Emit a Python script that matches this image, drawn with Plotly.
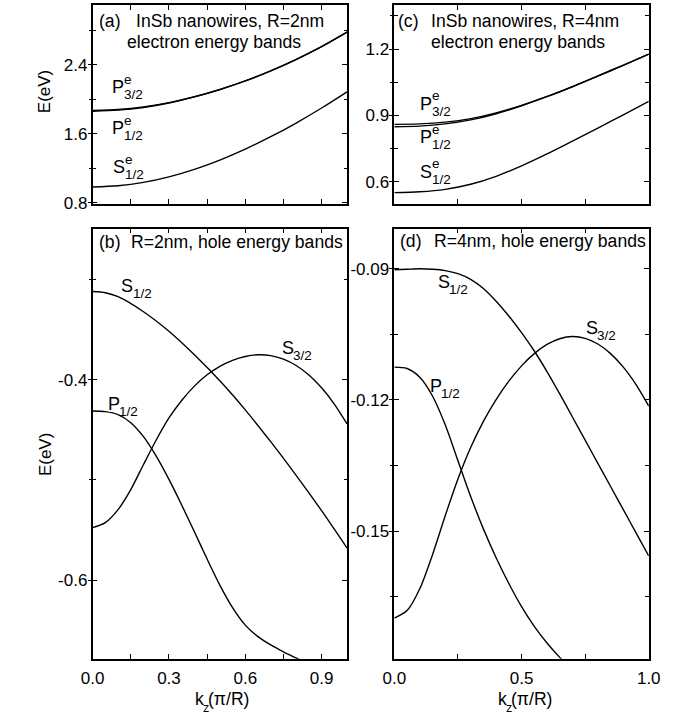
import plotly.graph_objects as go

W, H = 696, 722
FONT = "Liberation Sans, Arial, Helvetica, sans-serif"
INK = "#000000"

# ---------------- electron bands (k_z in units of pi/R, E in eV) ----------------
k_el = [0.0, 0.1, 0.2, 0.3, 0.4, 0.5, 0.6, 0.7, 0.8, 0.9, 1.0]

# R = 2 nm
el2_S12 = [0.982, 0.996, 1.035, 1.099, 1.186, 1.293, 1.420, 1.564, 1.723, 1.897, 2.085]
el2_P32 = [1.868, 1.880, 1.910, 1.960, 2.028, 2.112, 2.212, 2.328, 2.460, 2.608, 2.776]
el2_P12 = [1.860, 1.872, 1.903, 1.955, 2.026, 2.111, 2.211, 2.327, 2.459, 2.608, 2.776]

# R = 4 nm
el4_S12 = [0.551, 0.555, 0.566, 0.589, 0.625, 0.672, 0.726, 0.784, 0.843, 0.903, 0.964]
el4_P32 = [0.860, 0.862, 0.870, 0.886, 0.912, 0.946, 0.986, 1.031, 1.079, 1.128, 1.178]
el4_P12 = [0.849, 0.852, 0.862, 0.880, 0.908, 0.944, 0.985, 1.030, 1.078, 1.127, 1.178]

# ---------------- hole bands ----------------
# R = 2 nm
k_h2_S12 = [0.0, 0.05, 0.1, 0.2, 0.3, 0.4, 0.5, 0.6, 0.7, 0.8, 0.9, 1.0]
h2_S12 = [-0.3118, -0.3130, -0.3170, -0.3320, -0.3515, -0.3750, -0.4010,
          -0.4300, -0.4618, -0.4954, -0.5307, -0.5680]

k_h2_S32 = [0.0, 0.05, 0.1, 0.15, 0.2, 0.25, 0.3, 0.35, 0.4, 0.45, 0.5,
            0.55, 0.6, 0.65, 0.7, 0.75, 0.8, 0.85, 0.9, 0.95, 1.0]
h2_S32 = [-0.5476, -0.5426, -0.5296, -0.5096, -0.4846, -0.4601, -0.4381,
          -0.4206, -0.4063, -0.3950, -0.3865, -0.3805, -0.3767, -0.3750,
          -0.3758, -0.3793, -0.3857, -0.3952, -0.4080, -0.4242, -0.4440]

k_h2_P12 = [0.0, 0.05, 0.1, 0.15, 0.2, 0.25, 0.3, 0.35, 0.4, 0.45, 0.5,
            0.55, 0.6, 0.65, 0.7, 0.75, 0.8, 0.85]
h2_P12 = [-0.4312, -0.4318, -0.4348, -0.4428, -0.4568, -0.4763, -0.4995,
          -0.5250, -0.5518, -0.5790, -0.6050, -0.6275, -0.6450, -0.6565,
          -0.6648, -0.6716, -0.6778, -0.6840]

# R = 4 nm
k_h4_S12 = [0.0, 0.05, 0.1, 0.15, 0.2, 0.25, 0.3, 0.35, 0.4, 0.45, 0.5,
            0.55, 0.6, 0.65, 0.7, 0.75, 0.8, 0.85, 0.9, 0.95, 1.0]
h4_S12 = [-0.0902, -0.0901, -0.0900, -0.0901, -0.0904, -0.0911, -0.0924,
          -0.0945, -0.0974, -0.1008, -0.1046, -0.1088, -0.1135, -0.1186,
          -0.1239, -0.1292, -0.1345, -0.1398, -0.1451, -0.1504, -0.1557]

k_h4_S32 = [0.0, 0.05, 0.1, 0.15, 0.2, 0.25, 0.3, 0.35, 0.4, 0.45, 0.5,
            0.55, 0.6, 0.65, 0.7, 0.75, 0.8, 0.85, 0.9, 0.95, 1.0]
h4_S32 = [-0.1699, -0.1682, -0.1632, -0.1554, -0.1465, -0.1381, -0.1309,
          -0.1249, -0.1199, -0.1157, -0.1122, -0.1094, -0.1073, -0.1060,
          -0.1055, -0.1059, -0.1072, -0.1094, -0.1125, -0.1165, -0.1214]

k_h4_P12 = [0.0, 0.05, 0.1, 0.15, 0.2, 0.25, 0.3, 0.35, 0.4, 0.45, 0.5,
            0.55, 0.6, 0.65, 0.7]
h4_P12 = [-0.1125, -0.1128, -0.1148, -0.1191, -0.1257, -0.1339, -0.1421,
          -0.1495, -0.1561, -0.1620, -0.1673, -0.1718, -0.1756, -0.1789,
          -0.1819]

# ---------------- tick labels ----------------
xl_ticks = [0.0, 0.3, 0.6, 0.9]
xl_text = ["0.0", "0.3", "0.6", "0.9"]
xr_ticks = [0.0, 0.5, 1.0]
xr_text = ["0.0", "0.5", "1.0"]
ya_ticks = [0.8, 1.6, 2.4]
ya_text = ["0.8", "1.6", "2.4"]
yc_ticks = [0.6, 0.9, 1.2]
yc_text = ["0.6", "0.9", "1.2"]
yb_ticks = [-0.6, -0.4]
yb_text = ["-0.6", "-0.4"]
yd_ticks = [-0.15, -0.12, -0.09]
yd_text = ["-0.15", "-0.12", "-0.09"]


def px(x):
    return x / W


def py(y):
    return 1 - y / H


fig = go.Figure()

line = dict(color=INK, width=1.4, shape="spline", smoothing=0.8)


def band(k, e, xa, ya):
    fig.add_trace(go.Scatter(x=k, y=e, mode="lines", line=line,
                             xaxis=xa, yaxis=ya, hoverinfo="skip",
                             showlegend=False, cliponaxis=True))


band(k_el, el2_S12, "x", "y")
band(k_el, el2_P12, "x", "y")
band(k_el, el2_P32, "x", "y")
band(k_el, el4_S12, "x2", "y2")
band(k_el, el4_P12, "x2", "y2")
band(k_el, el4_P32, "x2", "y2")
band(k_h2_S12, h2_S12, "x3", "y3")
band(k_h2_S32, h2_S32, "x3", "y3")
band(k_h2_P12, h2_P12, "x3", "y3")
band(k_h4_S12, h4_S12, "x4", "y4")
band(k_h4_S32, h4_S32, "x4", "y4")
band(k_h4_P12, h4_P12, "x4", "y4")

# empty traces that carry the outer half of the crossing y ticks
for xa, ya in [("x", "y5"), ("x2", "y6"), ("x3", "y7"), ("x4", "y8")]:
    fig.add_trace(go.Scatter(x=[None], y=[None], mode="lines", xaxis=xa,
                             yaxis=ya, hoverinfo="skip", showlegend=False))

LEFT = [px(83.5), px(347)]
RIGHT = [px(396), px(659.5)]
TOP = [py(206.5), py(5)]
BOTTOM = [py(667), py(231.5)]

tickfont = dict(family=FONT, size=17, color=INK)


def xaxis(domain, anchor, vals, text, minor_dt, labels):
    return dict(domain=domain, anchor=anchor, range=[0, 1.0],
                tickmode="array", tickvals=vals, ticktext=text,
                showticklabels=labels, ticks="inside", ticklen=5,
                tickwidth=1.3, tickcolor=INK, mirror="allticks",
                showline=True, linecolor=INK, linewidth=1.6,
                showgrid=False, zeroline=False, tickfont=tickfont,
                ticklabelstandoff=3,
                minor=dict(ticks="inside", ticklen=3.5, tickwidth=1.2,
                           tickcolor=INK, dtick=minor_dt, tick0=0,
                           showgrid=False))


def yaxis(domain, anchor, rng, vals, text, minor_dt, minor_0):
    return dict(domain=domain, anchor=anchor, range=rng,
                tickmode="array", tickvals=vals, ticktext=text,
                ticks="inside", ticklen=5, tickwidth=1.3, tickcolor=INK,
                mirror="allticks", showline=True, linecolor=INK,
                linewidth=1.6, showgrid=False, zeroline=False,
                tickfont=tickfont, ticklabelstandoff=0,
                minor=dict(ticks="inside", ticklen=3.5, tickwidth=1.2,
                           tickcolor=INK, dtick=minor_dt, tick0=minor_0,
                           showgrid=False))


def outer_ticks(over, anchor, rng, vals, minor_dt, minor_0):
    return dict(overlaying=over, anchor=anchor, side="left", range=rng,
                tickmode="array", tickvals=vals, showticklabels=False,
                ticks="outside", ticklen=4, tickwidth=1.3, tickcolor=INK,
                showline=False, showgrid=False, zeroline=False,
                minor=dict(ticks="outside", ticklen=3, tickwidth=1.2,
                           tickcolor=INK, dtick=minor_dt, tick0=minor_0,
                           showgrid=False))


RA = [0.785, 3.092]
RC = [0.50, 1.40]
RB = [-0.6785, -0.249]
RD = [-0.1792, -0.0808]

fig.update_layout(
    width=W, height=H,
    margin=dict(l=0, r=0, t=0, b=0),
    paper_bgcolor="white", plot_bgcolor="white",
    font=dict(family=FONT, color=INK),
    showlegend=False,
    xaxis=xaxis(LEFT, "y", xl_ticks, xl_text, 0.15, False),
    yaxis=yaxis(TOP, "x", RA, ya_ticks, ya_text, 0.4, 0.0),
    xaxis2=xaxis(RIGHT, "y2", xr_ticks, xr_text, 0.25, False),
    yaxis2=yaxis(TOP, "x2", RC, yc_ticks, yc_text, 0.15, 0.0),
    xaxis3=xaxis(LEFT, "y3", xl_ticks, xl_text, 0.15, True),
    yaxis3=yaxis(BOTTOM, "x3", RB, yb_ticks, yb_text, 0.1, 0.0),
    xaxis4=xaxis(RIGHT, "y4", xr_ticks, xr_text, 0.25, True),
    yaxis4=yaxis(BOTTOM, "x4", RD, yd_ticks, yd_text, 0.015, 0.0),
    yaxis5=outer_ticks("y", "x", RA, ya_ticks, 0.4, 0.0),
    yaxis6=outer_ticks("y2", "x2", RC, yc_ticks, 0.15, 0.0),
    yaxis7=outer_ticks("y3", "x3", RB, yb_ticks, 0.1, 0.0),
    yaxis8=outer_ticks("y4", "x4", RD, yd_ticks, 0.015, 0.0),
)

annotations = []


def note(x, y, text, size, xanchor="left", angle=0):
    annotations.append(dict(
        x=px(x), y=py(y), xref="paper", yref="paper", text=text,
        showarrow=False, xanchor=xanchor, yanchor="middle",
        textangle=angle, borderpad=0,
        font=dict(family=FONT, size=size, color=INK)))


HEAD = 17.6
BIG = 18
SMALL = 13.5

# panel headings
note(89.5, 21, "(a)", HEAD)
note(127.5, 21.5, "InSb nanowires, R=2nm", HEAD)
note(118.5, 42.5, "electron energy bands", HEAD)
note(398.5, 21, "(c)", HEAD)
note(432.5, 21.5, "InSb nanowires, R=4nm", HEAD)
note(432.5, 42.5, "electron energy bands", HEAD)
note(89.5, 245, "(b)", HEAD)
note(122.5, 245.5, "R=2nm, hole energy bands", HEAD)
note(400.5, 244.5, "(d)", HEAD)
note(436, 244.5, "R=4nm, hole energy bands", HEAD)


def state(x, y, letter, sub, sup=None):
    note(x, y, letter, BIG)
    xs = x + 11.8 if letter == "P" else x + 12
    note(xs, y + 7.5, sub, SMALL)
    if sup:
        note(xs, y - 8, sup, SMALL)


# electron state labels
state(103, 88, "P", "3/2", "e")
state(103, 130, "P", "1/2", "e")
state(104, 169.5, "S", "1/2", "e")
state(422, 105, "P", "3/2", "e")
state(422, 139, "P", "1/2", "e")
state(422, 174, "S", "1/2", "e")

# hole state labels
state(112, 289.5, "S", "1/2")
state(278.3, 352, "S", "3/2")
state(98.3, 409, "P", "1/2")
state(440, 286, "S", "1/2")
state(593.3, 332, "S", "3/2")
state(432, 391, "P", "1/2")

# axis titles
note(33, 92.5, "E(eV)", 17, xanchor="center", angle=-90)
note(34, 460, "E(eV)", 17, xanchor="center", angle=-90)
for x0 in (188.3, 502):
    note(x0, 707.5, "k", 17.6)
    note(x0 + 8.6, 716.5, "z", 12.5)
    note(x0 + 13.4, 707.5, "(\u03c0/R)", 17.6)

fig.update_layout(annotations=annotations)

fig.write_html("out.html")
